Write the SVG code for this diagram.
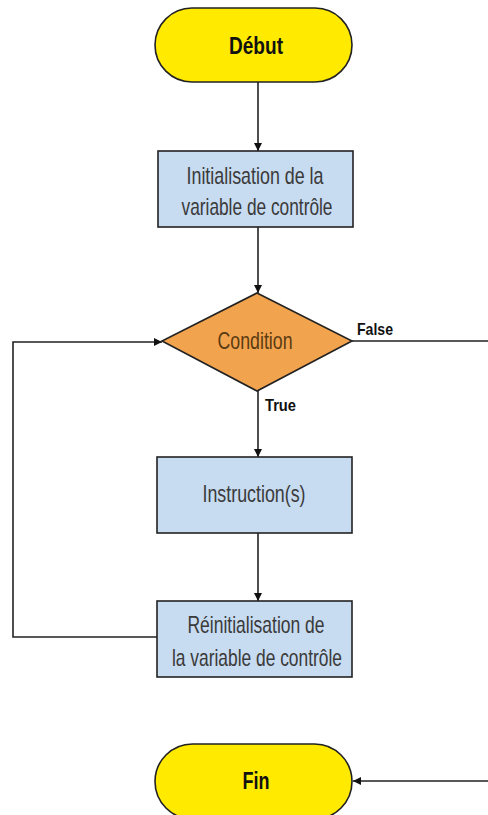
<svg xmlns="http://www.w3.org/2000/svg" width="488" height="815" viewBox="0 0 488 815">
<defs>
<style>
.term{fill:#FFEA00;stroke:#222;stroke-width:1.6}
.box{fill:#C7DBF1;stroke:#222;stroke-width:1.6}
.dec{fill:#F2A34E;stroke:#222;stroke-width:1.6}
.t{font-family:"Liberation Sans",Arial,sans-serif;font-size:24px;fill:#3a3a3a;text-anchor:middle}
.b{font-family:"Liberation Sans",Arial,sans-serif;font-weight:bold;fill:#111;text-anchor:middle}
.lbl{font-family:"Liberation Sans",Arial,sans-serif;font-weight:bold;font-size:17px;fill:#111}
.c{fill:none;stroke:#222;stroke-width:1.6}
</style>
<marker id="arr" viewBox="0 0 10 10" refX="10" refY="5" markerWidth="8" markerHeight="8" markerUnits="userSpaceOnUse" orient="auto">
<path d="M0,0 L10,5 L0,10 z" fill="#111"/>
</marker>
</defs>
<g id="connectors">
<path class="c" d="M258,82 V151" marker-end="url(#arr)"/>
<path class="c" d="M258,227 V293" marker-end="url(#arr)"/>
<path class="c" d="M258,391 V457" marker-end="url(#arr)"/>
<path class="c" d="M258,533 V601" marker-end="url(#arr)"/>
<path class="c" d="M157,637 H13 V342 H162" marker-end="url(#arr)"/>
<path class="c" d="M352,341 H492 V781 H353" marker-end="url(#arr)"/>
<text class="lbl" x="357" y="335" textLength="36" lengthAdjust="spacingAndGlyphs">False</text>
<text class="lbl" x="265" y="411" textLength="31" lengthAdjust="spacingAndGlyphs">True</text>
</g>
<g id="debut">
<rect class="term" x="155" y="8" width="197" height="74" rx="37" ry="37"/>
<text class="b" x="256" y="54" font-size="23" textLength="54" lengthAdjust="spacingAndGlyphs">Début</text>
</g>
<g id="init">
<rect class="box" x="158" y="151" width="195" height="76"/>
<text class="t" x="255" y="184" textLength="137" lengthAdjust="spacingAndGlyphs">Initialisation de la</text>
<text class="t" x="257" y="215" textLength="151" lengthAdjust="spacingAndGlyphs">variable de contrôle</text>
</g>
<g id="condition">
<polygon class="dec" points="257,293 352,341 257,391 162,341"/>
<text class="t" x="255" y="349" style="fill:#5a3b12" textLength="75" lengthAdjust="spacingAndGlyphs">Condition</text>
</g>
<g id="instruction">
<rect class="box" x="157" y="457" width="195" height="76"/>
<text class="t" x="254" y="502" textLength="103" lengthAdjust="spacingAndGlyphs">Instruction(s)</text>
</g>
<g id="reinit">
<rect class="box" x="157" y="601" width="195" height="76"/>
<text class="t" x="256" y="633" textLength="137" lengthAdjust="spacingAndGlyphs">Réinitialisation de</text>
<text class="t" x="257" y="666" textLength="170" lengthAdjust="spacingAndGlyphs">la variable de contrôle</text>
</g>
<g id="fin">
<rect class="term" x="155" y="744" width="197" height="75" rx="37.5" ry="37.5"/>
<text class="b" x="256" y="789" font-size="23" textLength="27" lengthAdjust="spacingAndGlyphs">Fin</text>
</g>
</svg>
